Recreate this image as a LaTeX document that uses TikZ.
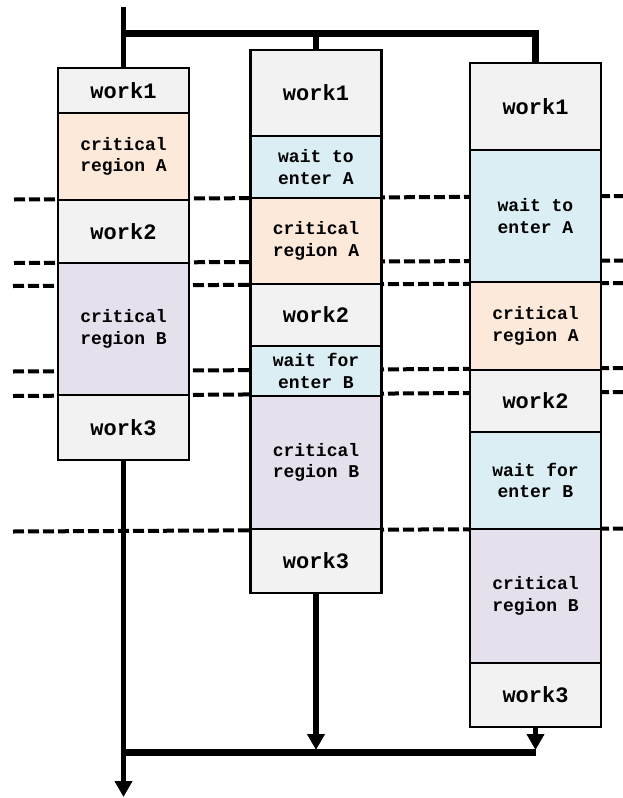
\documentclass[tikz,border=0pt]{standalone}
\usepackage{fontspec}
\setmonofont{Liberation Mono}
\usetikzlibrary{arrows.meta}

\definecolor{boxgray}{HTML}{F2F2F2}
\definecolor{boxpeach}{HTML}{FDE9D9}
\definecolor{boxblue}{HTML}{DAEEF3}
\definecolor{boxlilac}{HTML}{E5E0EC}

\tikzset{
  stage/.style={draw=black, line width=2.5pt, minimum width=131pt, inner sep=0pt,
    align=center, font=\ttfamily\bfseries},
  workbox/.style={stage, fill=boxgray, font=\ttfamily\bfseries\fontsize{22}{24}\selectfont},
  critA/.style={stage, fill=boxpeach, font=\ttfamily\bfseries\fontsize{18}{21.5}\selectfont},
  critB/.style={stage, fill=boxlilac, font=\ttfamily\bfseries\fontsize{18}{21.5}\selectfont},
  waitbox/.style={stage, fill=boxblue, font=\ttfamily\bfseries\fontsize{18}{21.5}\selectfont},
  flowv/.style={line width=5.5pt},
  flowh/.style={line width=7pt},
  flowarrow/.style={line width=5.5pt, -{Triangle[length=16pt,width=17pt]}},
  syncline/.style={line width=4pt, dash pattern=on 11pt off 4pt},
}

\begin{document}
\begin{tikzpicture}[x=1pt, y=-1pt]
\useasboundingbox (0,0) rectangle (623,798);

% synchronisation markers behind the threads
\draw[syncline] (14,199.5) -- (623,196);
\draw[syncline] (14,263) -- (623,260.5);
\draw[syncline] (13,286) -- (623,283);
\draw[syncline] (13,371.5) -- (623,368);
\draw[syncline] (13,396) -- (623,392);
\draw[syncline] (13,531.5) -- (623,528.5);

% thread 1
\node[workbox, minimum height=45pt] (c1w1) at (123.5,90.5) {work1};
\node[critA,   minimum height=87pt] (c1cA) at (123.5,156.5) {critical\\region A};
\node[workbox, minimum height=63pt] (c1w2) at (123.5,231.5) {work2};
\node[critB,   minimum height=132pt] (c1cB) at (123.5,329) {critical\\region B};
\node[workbox, minimum height=65pt] (c1w3) at (123.5,427.5) {work3};

% thread 2
\node[workbox, minimum height=86pt] (c2w1) at (316,93) {work1};
\node[waitbox, minimum height=62pt] (c2wA) at (316,167) {wait to\\enter A};
\node[critA,   minimum height=86pt] (c2cA) at (316,241) {critical\\region A};
\node[workbox, minimum height=62pt] (c2w2) at (316,315) {work2};
\node[waitbox, minimum height=50pt] (c2wB) at (316,371) {wait for\\enter B};
\node[critB,   minimum height=133pt] (c2cB) at (316,462.5) {critical\\region B};
\node[workbox, minimum height=64pt] (c2w3) at (316,561) {work3};

% thread 3
\node[workbox, minimum height=87pt] (c3w1) at (535.5,106.5) {work1};
\node[waitbox, minimum height=132pt] (c3wA) at (535.5,216) {wait to\\enter A};
\node[critA,   minimum height=88pt] (c3cA) at (535.5,326) {critical\\region A};
\node[workbox, minimum height=62pt] (c3w2) at (535.5,401) {work2};
\node[waitbox, minimum height=97pt] (c3wB) at (535.5,480.5) {wait for\\enter B};
\node[critB,   minimum height=134pt] (c3cB) at (535.5,596) {critical\\region B};
\node[workbox, minimum height=64pt] (c3w3) at (535.5,695) {work3};

% fork at the top
\coordinate (entry) at (123.5,7);
\coordinate (fork) at (123.5,33);
\draw[flowv] (entry) -- (c1w1.north);
\draw[flowh, line join=miter] (fork) -| (c3w1.north);
\draw[flowv] (fork -| c2w1.north) -- (c2w1.north);

% join at the bottom
\coordinate (join) at (123.5,752);
\coordinate (jointop) at (123.5,750);
\coordinate (exit) at (123.5,797);
\draw[flowarrow] (c1w3.south) -- (exit);
\draw[flowh] (join) -- (join -| c3w3.south);
\draw[flowarrow] (c2w3.south) -- (c2w3.south |- jointop);
\draw[flowarrow] (c3w3.south) -- (c3w3.south |- jointop);
\end{tikzpicture}
\end{document}
